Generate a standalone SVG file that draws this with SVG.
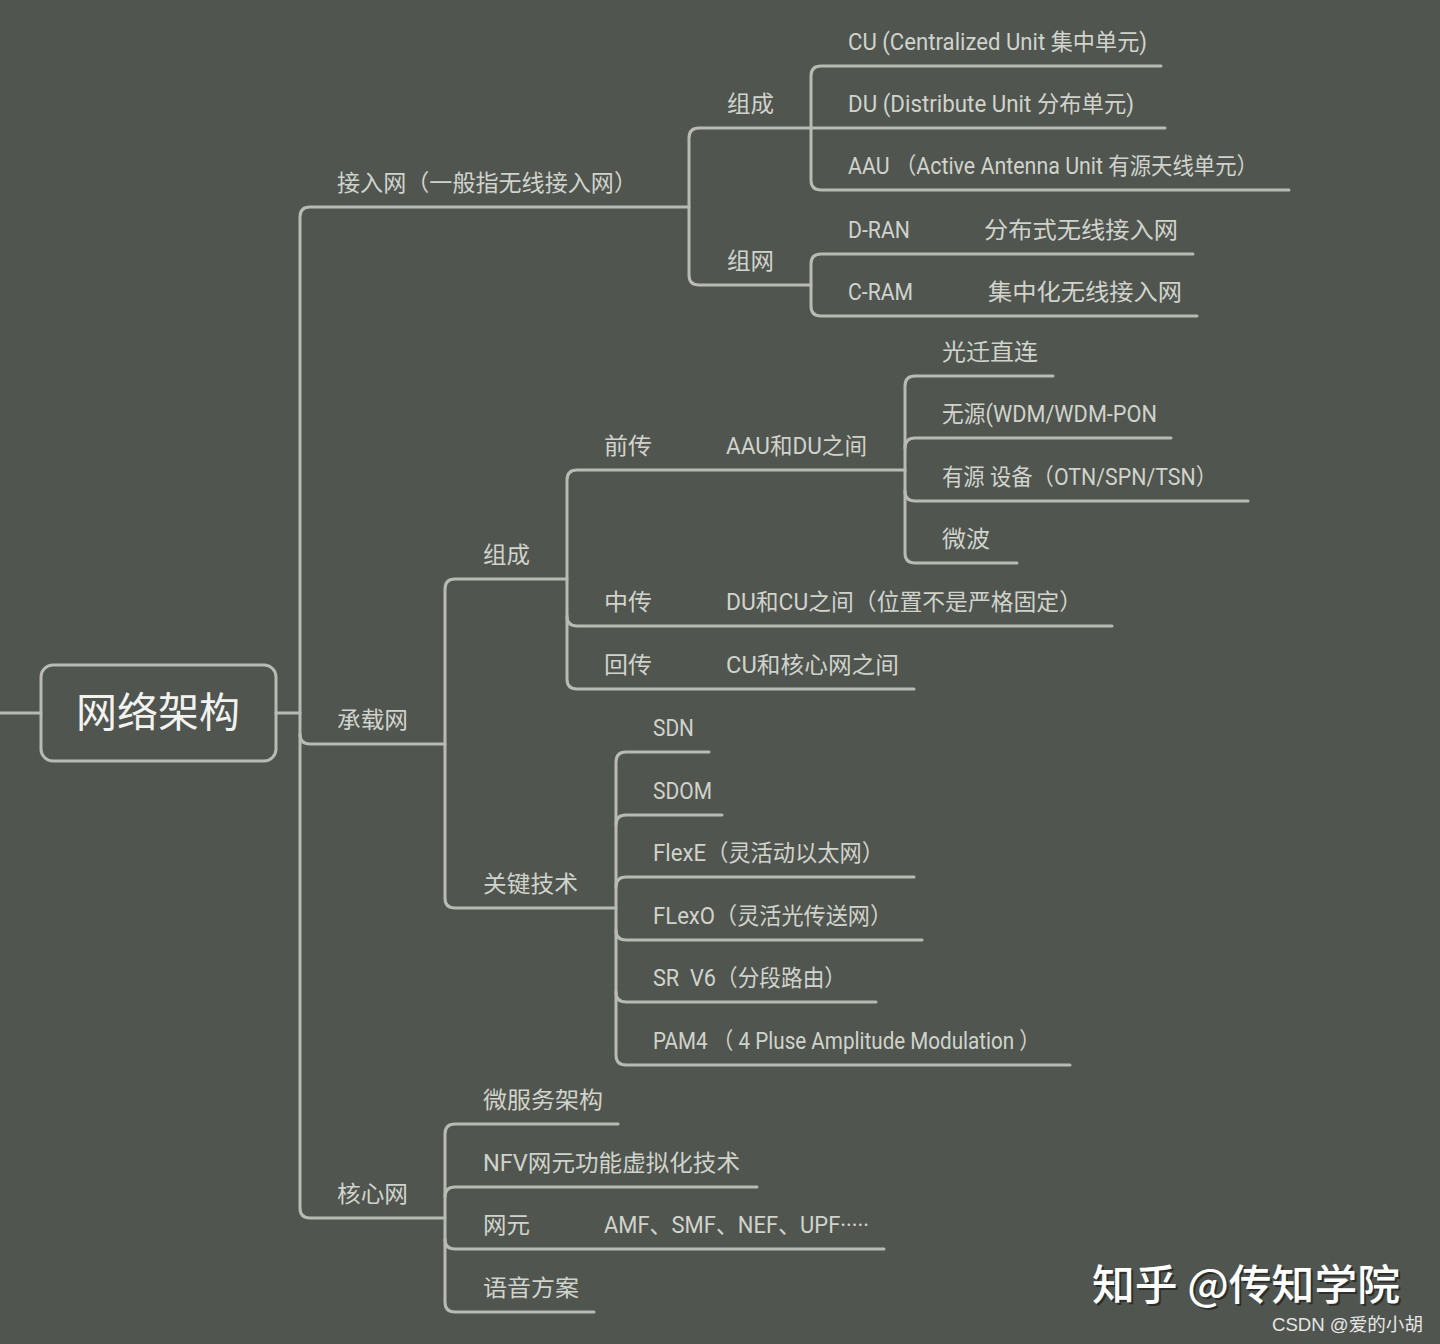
<svg xmlns="http://www.w3.org/2000/svg" width="1440" height="1344" viewBox="0 0 1440 1344">
<style>
.bg{fill:#50554f}
.c{fill:none;stroke:#b7bbb3;stroke-width:3;stroke-linecap:round;stroke-linejoin:round}
.t{font-family:"Roboto","Noto Sans CJK SC",sans-serif;font-size:23px;fill:#d0d3cc;white-space:pre}
.root{font-family:"Noto Sans CJK SC",sans-serif;font-size:41px;fill:#f2f3f0}
.wm{font-family:"Noto Sans CJK SC",sans-serif;font-size:42px;font-weight:500;fill:#ffffff}
.wms{font-family:"Noto Sans CJK SC",sans-serif;font-size:42px;font-weight:500;fill:#1e201d;opacity:0.7}
.cs{font-family:"Liberation Sans","Noto Sans CJK SC",sans-serif;font-size:18px;fill:#e6e6e4}
</style>
<rect class="bg" x="0" y="0" width="1440" height="1344"/>
<g id="connectors">
<path class="c" d="M0,713 H41"/>
<path class="c" d="M276,713 H300"/>
<path class="c" d="M689,207 H310 Q300,207 300,217 V1208 Q300,1218 310,1218 H445"/>
<path class="c" d="M300,734 Q300,744 310,744 H445"/>
<path class="c" d="M811,128 H699 Q689,128 689,138 V275 Q689,285 699,285 H811"/>
<path class="c" d="M1161,66 H821 Q811,66 811,76 V180 Q811,190 821,190 H1289"/>
<path class="c" d="M811,128 H1165"/>
<path class="c" d="M1193,254 H821 Q811,254 811,264 V306 Q811,316 821,316 H1197"/>
<path class="c" d="M567,579 H455 Q445,579 445,589 V898 Q445,908 455,908 H616"/>
<path class="c" d="M905,470 H577 Q567,470 567,480 V679 Q567,689 577,689 H914"/>
<path class="c" d="M567,616 Q567,626 577,626 H1112"/>
<path class="c" d="M1053,376 H915 Q905,376 905,386 V553 Q905,563 915,563 H1017"/>
<path class="c" d="M905,448 Q905,438 915,438 H1171"/>
<path class="c" d="M905,491 Q905,501 915,501 H1248"/>
<path class="c" d="M709,752 H626 Q616,752 616,762 V1055 Q616,1065 626,1065 H1070"/>
<path class="c" d="M616,825 Q616,815 626,815 H722"/>
<path class="c" d="M616,887 Q616,877 626,877 H914"/>
<path class="c" d="M616,930 Q616,940 626,940 H922"/>
<path class="c" d="M616,992 Q616,1002 626,1002 H876"/>
<path class="c" d="M618,1124 H455 Q445,1124 445,1134 V1302 Q445,1312 455,1312 H594"/>
<path class="c" d="M445,1197 Q445,1187 455,1187 H757"/>
<path class="c" d="M445,1239 Q445,1249 455,1249 H884"/>
</g>
<g id="root">
<rect x="41" y="665" width="235" height="96" rx="12" fill="none" stroke="#b7bbb3" stroke-width="3"/>
<text class="root" x="158" y="727" text-anchor="middle">网络架构</text>
</g>
<g id="n-access"><text class="t" x="337" y="191" textLength="300" lengthAdjust="spacingAndGlyphs">接入网（一般指无线接入网）</text></g>
<g id="n-access-comp"><text class="t" x="727" y="112" textLength="47" lengthAdjust="spacingAndGlyphs">组成</text></g>
<g id="n-access-net"><text class="t" x="727" y="269" textLength="47" lengthAdjust="spacingAndGlyphs">组网</text></g>
<g id="n-cu"><text class="t" x="848" y="50" textLength="299" lengthAdjust="spacingAndGlyphs">CU (Centralized Unit 集中单元)</text></g>
<g id="n-du"><text class="t" x="848" y="112" textLength="286" lengthAdjust="spacingAndGlyphs">DU (Distribute Unit 分布单元)</text></g>
<g id="n-aau"><text class="t" x="848" y="174" textLength="410" lengthAdjust="spacingAndGlyphs">AAU （Active Antenna Unit 有源天线单元）</text></g>
<g id="n-dran"><text class="t" x="848" y="238" textLength="62" lengthAdjust="spacingAndGlyphs">D-RAN</text><text class="t" x="984" y="238" textLength="194" lengthAdjust="spacingAndGlyphs">分布式无线接入网</text></g>
<g id="n-cram"><text class="t" x="848" y="300" textLength="65" lengthAdjust="spacingAndGlyphs">C-RAM</text><text class="t" x="988" y="300" textLength="194" lengthAdjust="spacingAndGlyphs">集中化无线接入网</text></g>
<g id="n-bearer"><text class="t" x="337" y="728" textLength="71" lengthAdjust="spacingAndGlyphs">承载网</text></g>
<g id="n-bearer-comp"><text class="t" x="483" y="563" textLength="47" lengthAdjust="spacingAndGlyphs">组成</text></g>
<g id="n-fronthaul"><text class="t" x="604" y="454" textLength="48" lengthAdjust="spacingAndGlyphs">前传</text><text class="t" x="726" y="454" textLength="141" lengthAdjust="spacingAndGlyphs">AAU和DU之间</text></g>
<g id="n-fiber"><text class="t" x="942" y="360" textLength="96" lengthAdjust="spacingAndGlyphs">光迁直连</text></g>
<g id="n-passive"><text class="t" x="942" y="422" textLength="215" lengthAdjust="spacingAndGlyphs">无源(WDM/WDM-PON</text></g>
<g id="n-active"><text class="t" x="942" y="485" textLength="275" lengthAdjust="spacingAndGlyphs">有源 设备（OTN/SPN/TSN）</text></g>
<g id="n-microwave"><text class="t" x="942" y="547" textLength="48" lengthAdjust="spacingAndGlyphs">微波</text></g>
<g id="n-midhaul"><text class="t" x="604" y="610" textLength="48" lengthAdjust="spacingAndGlyphs">中传</text><text class="t" x="726" y="610" textLength="356" lengthAdjust="spacingAndGlyphs">DU和CU之间（位置不是严格固定）</text></g>
<g id="n-backhaul"><text class="t" x="604" y="673" textLength="48" lengthAdjust="spacingAndGlyphs">回传</text><text class="t" x="726" y="673" textLength="173" lengthAdjust="spacingAndGlyphs">CU和核心网之间</text></g>
<g id="n-keytech"><text class="t" x="483" y="892" textLength="95" lengthAdjust="spacingAndGlyphs">关键技术</text></g>
<g id="n-sdn"><text class="t" x="653" y="736" textLength="41" lengthAdjust="spacingAndGlyphs">SDN</text></g>
<g id="n-sdom"><text class="t" x="653" y="799" textLength="59" lengthAdjust="spacingAndGlyphs">SDOM</text></g>
<g id="n-flexe"><text class="t" x="653" y="861" textLength="231" lengthAdjust="spacingAndGlyphs">FlexE（灵活动以太网）</text></g>
<g id="n-flexo"><text class="t" x="653" y="924" textLength="239" lengthAdjust="spacingAndGlyphs">FLexO（灵活光传送网）</text></g>
<g id="n-srv6"><text class="t" x="653" y="986" textLength="193" lengthAdjust="spacingAndGlyphs">SR  V6（分段路由）</text></g>
<g id="n-pam4"><text class="t" x="653" y="1049" textLength="387" lengthAdjust="spacingAndGlyphs">PAM4 （ 4 Pluse Amplitude Modulation ）</text></g>
<g id="n-core"><text class="t" x="337" y="1202" textLength="71" lengthAdjust="spacingAndGlyphs">核心网</text></g>
<g id="n-micro"><text class="t" x="483" y="1108" textLength="120" lengthAdjust="spacingAndGlyphs">微服务架构</text></g>
<g id="n-nfv"><text class="t" x="483" y="1171" textLength="257" lengthAdjust="spacingAndGlyphs">NFV网元功能虚拟化技术</text></g>
<g id="n-ne"><text class="t" x="483" y="1233" textLength="47" lengthAdjust="spacingAndGlyphs">网元</text><text class="t" x="604" y="1233" textLength="265" lengthAdjust="spacingAndGlyphs">AMF、SMF、NEF、UPF·····</text></g>
<g id="n-voice"><text class="t" x="483" y="1296" textLength="96" lengthAdjust="spacingAndGlyphs">语音方案</text></g>
<g id="watermark">
<text class="wms" x="1094" y="1302" textLength="308" lengthAdjust="spacingAndGlyphs">知乎 @传知学院</text>
<text class="wm" x="1092" y="1300" textLength="308" lengthAdjust="spacingAndGlyphs">知乎 @传知学院</text>
<text class="cs" x="1272" y="1331" textLength="151" lengthAdjust="spacingAndGlyphs">CSDN @爱的小胡</text>
</g>
</svg>
